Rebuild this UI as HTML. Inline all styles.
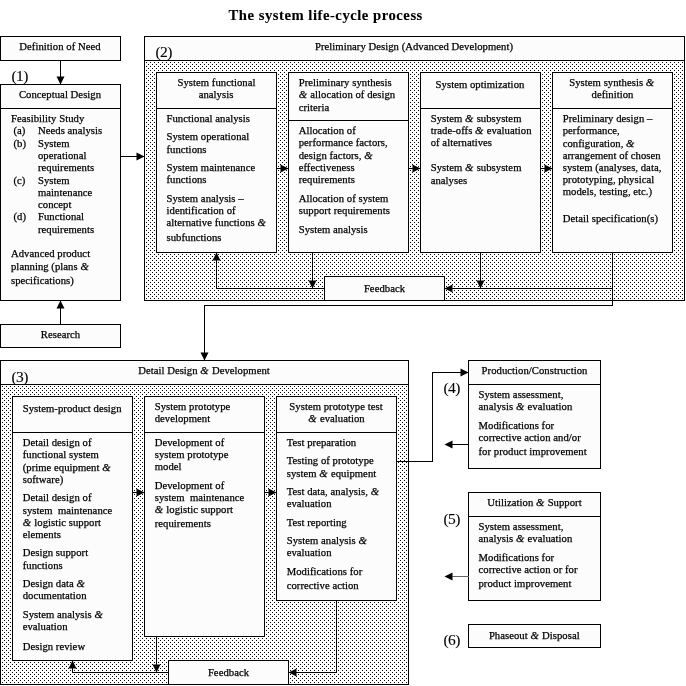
<!DOCTYPE html>
<html lang="en"><head><meta charset="utf-8"><title>The system life-cycle process</title>
<style>
html,body{margin:0;padding:0;background:#fff;overflow:hidden}
svg{display:block;will-change:transform}
.s{fill:none;stroke:#000;stroke-width:1;shape-rendering:crispEdges}
.h{fill:#000;stroke:none}
.t{font-family:"Liberation Serif","Times New Roman",serif;font-size:10.67px;fill:#000;stroke:#000;stroke-width:.25px;letter-spacing:.045px}
.ti{font-weight:bold;font-size:14.67px;letter-spacing:.52px;stroke-width:.1px}
.n{font-size:15.5px;letter-spacing:-.6px;stroke-width:.1px}
.a{font-style:italic;font-size:10.67px;letter-spacing:.6px}
</style></head><body>
<svg width="686" height="686" viewBox="0 0 686 686">
<defs><pattern id="d" width="4" height="4" patternUnits="userSpaceOnUse"><rect width="4" height="4" fill="#fff"/><rect x="0" y="0" width="1" height="1" fill="#000"/><rect x="2" y="2" width="1" height="1" fill="#000"/></pattern></defs>
<rect width="686" height="686" fill="#fff"/>
<g class="s">
<rect x="0.5" y="36.5" width="120" height="24" fill="#fcfcfc"/>
<rect x="0.5" y="84.5" width="120" height="216" fill="#fcfcfc"/>
<path d="M0 108.5H121"/>
<rect x="0.5" y="324.5" width="120" height="23" fill="#fcfcfc"/>
<rect x="144.5" y="36.5" width="540" height="264" fill="#fcfcfc"/>
<rect x="144.5" y="60.5" width="540" height="240" fill="url(#d)"/>
<rect x="156.5" y="72.5" width="120" height="180" fill="#fcfcfc"/>
<path d="M156 108.5H277"/>
<rect x="288.5" y="72.5" width="120" height="180" fill="#fcfcfc"/>
<path d="M288 120.5H409"/>
<rect x="420.5" y="72.5" width="120" height="180" fill="#fcfcfc"/>
<path d="M420 108.5H541"/>
<rect x="552.5" y="72.5" width="120" height="180" fill="#fcfcfc"/>
<path d="M552 108.5H673"/>
<rect x="324.5" y="276.5" width="120" height="24" fill="#fcfcfc"/>
<rect x="0.5" y="360.5" width="408" height="324" fill="#fcfcfc"/>
<rect x="0.5" y="384.5" width="408" height="300" fill="url(#d)"/>
<rect x="12.5" y="396.5" width="120" height="264" fill="#fcfcfc"/>
<path d="M12 432.5H133"/>
<rect x="144.5" y="396.5" width="120" height="240" fill="#fcfcfc"/>
<path d="M144 432.5H265"/>
<rect x="276.5" y="396.5" width="120" height="204" fill="#fcfcfc"/>
<path d="M276 432.5H397"/>
<rect x="168.5" y="660.5" width="120" height="24" fill="#fcfcfc"/>
<rect x="468.5" y="360.5" width="132" height="108" fill="#fcfcfc"/>
<path d="M468 384.5H601"/>
<rect x="468.5" y="492.5" width="132" height="108" fill="#fcfcfc"/>
<path d="M468 516.5H601"/>
<rect x="468.5" y="624.5" width="132" height="23" fill="#fcfcfc"/>
</g>
<g class="s c">
<path d="M60.5 60V85"/>
<path d="M60.5 300V325"/>
<path d="M120 156.5H145"/>
<path d="M276 168.5H289"/>
<path d="M408 168.5H421"/>
<path d="M540 168.5H553"/>
<path d="M216 288.5H325"/>
<path d="M216.5 252V289"/>
<path d="M312.5 252V289"/>
<path d="M480.5 252V289"/>
<path d="M612.5 252V306"/>
<path d="M444 288.5H613"/>
<path d="M204 305.5H613"/>
<path d="M204.5 305V361"/>
<path d="M132 492.5H145"/>
<path d="M264 492.5H277"/>
<path d="M72 672.5H169"/>
<path d="M72.5 660V673"/>
<path d="M156.5 636V673"/>
<path d="M336.5 600V673"/>
<path d="M288 672.5H337"/>
<path d="M396 461.5H433"/>
<path d="M432.5 372V462"/>
<path d="M432 372.5H469"/>
<path d="M446 444.5H469"/>
<path d="M446 576.5H469" stroke="#666"/>
</g>
<polygon class="h" points="60.5,84.5 56.5,76.5 64.5,76.5"/>
<polygon class="h" points="60.5,300.5 56.5,308.5 64.5,308.5"/>
<polygon class="h" points="144.5,156.5 136.5,152.5 136.5,160.5"/>
<polygon class="h" points="288.5,168.5 280.5,164.5 280.5,172.5"/>
<polygon class="h" points="420.5,168.5 412.5,164.5 412.5,172.5"/>
<polygon class="h" points="552.5,168.5 544.5,164.5 544.5,172.5"/>
<polygon class="h" points="216.5,252.5 212.5,260.5 220.5,260.5"/>
<polygon class="h" points="312.5,288.5 308.5,280.5 316.5,280.5"/>
<polygon class="h" points="480.5,288.5 476.5,280.5 484.5,280.5"/>
<polygon class="h" points="444.5,288.5 452.5,284.5 452.5,292.5"/>
<polygon class="h" points="204.5,360.5 200.5,352.5 208.5,352.5"/>
<polygon class="h" points="144.5,492.5 136.5,488.5 136.5,496.5"/>
<polygon class="h" points="276.5,492.5 268.5,488.5 268.5,496.5"/>
<polygon class="h" points="72.5,660.5 68.5,668.5 76.5,668.5"/>
<polygon class="h" points="156.5,672.5 152.5,664.5 160.5,664.5"/>
<polygon class="h" points="288.5,672.5 296.5,668.5 296.5,676.5"/>
<polygon class="h" points="468.5,372.5 460.5,368.5 460.5,376.5"/>
<polygon class="h" points="444.5,444.5 452.5,440.5 452.5,448.5"/>
<polygon class="h" points="444.5,576.5 452.5,572.5 452.5,580.5"/>
<g class="t">
<text x="325.7" y="20.2" class="ti" text-anchor="middle">The system life-cycle process</text>
<text x="60" y="50.4" text-anchor="middle">Definition of Need</text>
<text x="60" y="98.4" text-anchor="middle">Conceptual Design</text>
<text x="60.5" y="338.4" text-anchor="middle">Research</text>
<text x="11.5" y="80.5" class="n">(1)</text>
<text x="155.5" y="57" class="n">(2)</text>
<text x="11.5" y="381.5" class="n">(3)</text>
<text x="443.5" y="393" class="n">(4)</text>
<text x="443.5" y="524.4" class="n">(5)</text>
<text x="443.5" y="644.5" class="n">(6)</text>
<text x="11" y="122.2">Feasibility Study</text>
<text x="13.5" y="134.47">(a)</text>
<text x="38" y="134.47">Needs analysis</text>
<text x="13.5" y="146.74">(b)</text>
<text x="38" y="146.74">System</text>
<text x="38" y="159.01">operational</text>
<text x="38" y="171.28">requirements</text>
<text x="13.5" y="183.55">(c)</text>
<text x="38" y="183.55">System</text>
<text x="38" y="195.82">maintenance</text>
<text x="38" y="208.09">concept</text>
<text x="13.5" y="220.36">(d)</text>
<text x="38" y="220.36">Functional</text>
<text x="38" y="232.63">requirements</text>
<text x="11" y="257.2">Advanced product</text>
<text x="11" y="269.7">planning (plans <tspan class="a">&amp;</tspan></text>
<text x="11" y="283.5">specifications)</text>
<text x="414" y="50.4" text-anchor="middle">Preliminary Design (Advanced Development)</text>
<text x="216.5" y="86.4" text-anchor="middle">System functional</text>
<text x="216" y="98.4" text-anchor="middle">analysis</text>
<text x="166.5" y="122.0">Functional analysis</text>
<text x="166.5" y="140.2">System operational</text>
<text x="166.5" y="152.6">functions</text>
<text x="166.5" y="170.9">System maintenance</text>
<text x="166.5" y="182.9">functions</text>
<text x="166.5" y="201.8">System analysis –</text>
<text x="166.5" y="213.9">identification of</text>
<text x="166.5" y="225.8">alternative functions <tspan class="a">&amp;</tspan></text>
<text x="166.5" y="240.6">subfunctions</text>
<text x="298.7" y="86.0">Preliminary synthesis</text>
<text x="298.7" y="98.0"><tspan class="a">&amp;</tspan> allocation of design</text>
<text x="298.7" y="110.8">criteria</text>
<text x="298.7" y="134.1">Allocation of</text>
<text x="298.7" y="146.4">performance factors,</text>
<text x="298.7" y="158.8">design factors, <tspan class="a">&amp;</tspan></text>
<text x="298.7" y="170.7">effectiveness</text>
<text x="298.7" y="182.6">requirements</text>
<text x="298.7" y="201.9">Allocation of system</text>
<text x="298.7" y="213.8">support requirements</text>
<text x="298.7" y="233.3">System analysis</text>
<text x="480" y="88.0" text-anchor="middle">System optimization</text>
<text x="430.7" y="122.0">System <tspan class="a">&amp;</tspan> subsystem</text>
<text x="430.7" y="134.2">trade-offs <tspan class="a">&amp;</tspan> evaluation</text>
<text x="430.7" y="146.4">of alternatives</text>
<text x="430.7" y="171.0">System <tspan class="a">&amp;</tspan> subsystem</text>
<text x="430.7" y="184.4">analyses</text>
<text x="612" y="86.0" text-anchor="middle">System synthesis <tspan class="a">&amp;</tspan></text>
<text x="612.5" y="98.0" text-anchor="middle">definition</text>
<text x="562.7" y="122.0">Preliminary design –</text>
<text x="562.7" y="134.4">performance,</text>
<text x="562.7" y="146.7">configuration, <tspan class="a">&amp;</tspan></text>
<text x="562.7" y="158.9">arrangement of chosen</text>
<text x="562.7" y="171.0">system (analyses, data,</text>
<text x="562.7" y="182.8">prototyping, physical</text>
<text x="562.7" y="195.2">models, testing, etc.)</text>
<text x="562.7" y="221.7">Detail specification(s)</text>
<text x="384.5" y="291.7" text-anchor="middle">Feedback</text>
<text x="204" y="374.1" text-anchor="middle">Detail Design <tspan class="a">&amp;</tspan> Development</text>
<text x="22.7" y="412.0">System-product design</text>
<text x="22.7" y="445.9">Detail design of</text>
<text x="22.7" y="458.1">functional system</text>
<text x="22.7" y="470.7">(prime equipment <tspan class="a">&amp;</tspan></text>
<text x="22.7" y="482.9">software)</text>
<text x="22.7" y="501.2">Detail design of</text>
<text x="22.7" y="513.5">system  maintenance</text>
<text x="22.7" y="525.9"><tspan class="a">&amp;</tspan> logistic support</text>
<text x="22.7" y="537.8">elements</text>
<text x="22.7" y="556.1">Design support</text>
<text x="22.7" y="568.5">functions</text>
<text x="22.7" y="586.8">Design data <tspan class="a">&amp;</tspan></text>
<text x="22.7" y="598.7">documentation</text>
<text x="22.7" y="617.9">System analysis <tspan class="a">&amp;</tspan></text>
<text x="22.7" y="629.8">evaluation</text>
<text x="22.7" y="649.8">Design review</text>
<text x="154.7" y="409.9">System prototype</text>
<text x="154.7" y="422.0">development</text>
<text x="154.7" y="445.9">Development of</text>
<text x="154.7" y="458.1">system prototype</text>
<text x="154.7" y="470.4">model</text>
<text x="154.7" y="488.9">Development of</text>
<text x="154.7" y="501.2">system  maintenance</text>
<text x="154.7" y="513.4"><tspan class="a">&amp;</tspan> logistic support</text>
<text x="154.7" y="527.0">requirements</text>
<text x="336" y="409.9" text-anchor="middle">System prototype test</text>
<text x="336.5" y="422.0" text-anchor="middle"><tspan class="a">&amp;</tspan> evaluation</text>
<text x="286.7" y="445.9">Test preparation</text>
<text x="286.7" y="464.2">Testing of prototype</text>
<text x="286.7" y="476.9">system <tspan class="a">&amp;</tspan> equipment</text>
<text x="286.7" y="495.0">Test data, analysis, <tspan class="a">&amp;</tspan></text>
<text x="286.7" y="506.8">evaluation</text>
<text x="286.7" y="526.0">Test reporting</text>
<text x="286.7" y="543.9">System analysis <tspan class="a">&amp;</tspan></text>
<text x="286.7" y="555.8">evaluation</text>
<text x="286.7" y="574.7">Modifications for</text>
<text x="286.7" y="588.6">corrective action</text>
<text x="228.5" y="675.7" text-anchor="middle">Feedback</text>
<text x="534.5" y="374.2" text-anchor="middle">Production/Construction</text>
<text x="478.5" y="398.2">System assessment,</text>
<text x="478.5" y="410.2">analysis <tspan class="a">&amp;</tspan> evaluation</text>
<text x="478.5" y="428.8">Modifications for</text>
<text x="478.5" y="441.1">corrective action and/or</text>
<text x="478.5" y="455.0">for product improvement</text>
<text x="534.5" y="506.2" text-anchor="middle">Utilization <tspan class="a">&amp;</tspan> Support</text>
<text x="478.5" y="530.2">System assessment,</text>
<text x="478.5" y="542.2">analysis <tspan class="a">&amp;</tspan> evaluation</text>
<text x="478.5" y="560.8">Modifications for</text>
<text x="478.5" y="573.1">corrective action or for</text>
<text x="478.5" y="587.0">product improvement</text>
<text x="534.3" y="638.5" text-anchor="middle">Phaseout <tspan class="a">&amp;</tspan> Disposal</text>
</g>
</svg>
</body></html>
